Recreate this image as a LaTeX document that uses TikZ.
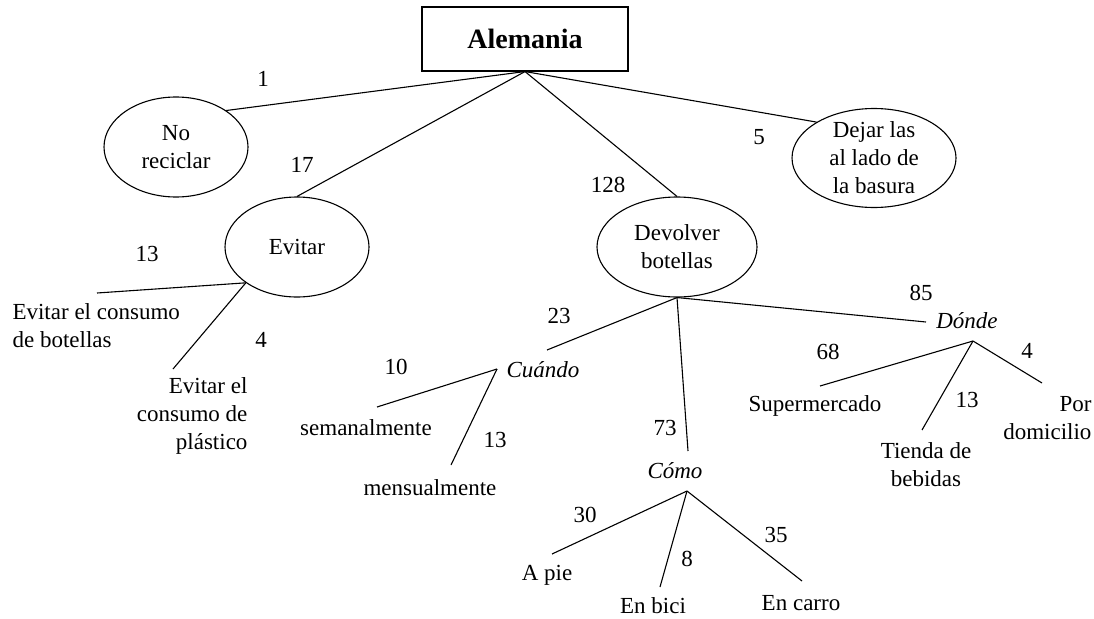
\documentclass[tikz,border=0pt]{standalone}
\usepackage{fontspec}
\setmainfont{Liberation Serif}
\usetikzlibrary{shapes.geometric}
\begin{document}
\begin{tikzpicture}[x=1pt,y=-1pt,line width=1.1pt,
   font=\fontsize{23}{28}\selectfont,
   oval/.style={draw,ellipse,inner sep=0pt,minimum height=100pt},
   txt/.style={inner sep=0pt,align=center},
   num/.style={inner sep=0pt}]
   \useasboundingbox (0,0) rectangle (1094,618);
   \node[draw,minimum width=206pt,minimum height=64pt,
      font=\fontsize{28}{34}\selectfont\bfseries] (alemania) at (525,39) {Alemania};
   \node[oval,minimum width=144pt,label={[txt]center:No\\reciclar}] (noreciclar) at (176,147) {};
   \node[oval,minimum width=144pt,label={[txt]center:Evitar}] (evitar) at (297,247) {};
   \node[oval,minimum width=160pt,label={[txt]center:Devolver\\botellas}] (devolver) at (677,247) {};
   \node[oval,minimum width=164pt,minimum height=99pt,
      label={[txt]center:Dejar las\\al lado de\\la basura}] (dejar) at (874,158) {};
   \draw (alemania.south) -- (noreciclar.36);
   \draw (alemania.south) -- (evitar.north);
   \draw (alemania.south) -- (devolver.north);
   \draw (alemania.south) -- (dejar.148);
   \node[num] (n1) at (263,79) {1};
   \node[num] (n17) at (302,165) {17};
   \node[num] (n128) at (608,185) {128};
   \node[num] (n5) at (759,137) {5};
   % Evitar
   \node[txt,align=left,anchor=west] (botellas) at (12,326) {Evitar el consumo\\de botellas};
   \node[txt,align=right,anchor=east] (plastico) at (248,416) {Evitar el\\consumo de\\plástico};
   \coordinate (botellastop) at (97,293);
   \coordinate (plasticotop) at (173,369);
   \draw (evitar.215) -- (botellastop);
   \draw (evitar.215) -- (plasticotop);
   \node[num] (n13a) at (147,254) {13};
   \node[num] (n4a) at (261,340) {4};
   % Devolver botellas
   \node[txt,font=\fontsize{23}{28}\selectfont\itshape] (cuando) at (543,370) {Cuándo};
   \node[txt,font=\fontsize{23}{28}\selectfont\itshape] (como) at (675,471) {Cómo};
   \node[txt,font=\fontsize{23}{28}\selectfont\itshape] (donde) at (967,321) {Dónde};
   \coordinate (cuandoin) at (547,350);
   \coordinate (comoin) at (688,451);
   \coordinate (dondein) at (926,322);
   \draw (devolver.south) -- (cuandoin);
   \draw (devolver.south) -- (comoin);
   \draw (devolver.south) -- (dondein);
   \node[num] (n23) at (559,316) {23};
   \node[num] (n73) at (665,428) {73};
   \node[num] (n85) at (921,293) {85};
   % Cuando
   \node[txt] (semanal) at (366,428) {semanalmente};
   \node[txt] (mensual) at (430,488) {mensualmente};
   \coordinate (cuandoout) at (497,369);
   \coordinate (semanaltop) at (377,407);
   \coordinate (mensualtop) at (451,465);
   \draw (cuandoout) -- (semanaltop);
   \draw (cuandoout) -- (mensualtop);
   \node[num] (n10) at (396,367) {10};
   \node[num] (n13b) at (495,440) {13};
   % Como
   \node[txt] (apie) at (547,575) {A pie};
   \node[txt] (bici) at (653,606) {En bici};
   \node[txt] (carro) at (801,603) {En carro};
   \coordinate (comoout) at (687,491);
   \coordinate (apietop) at (552,554);
   \coordinate (bicitop) at (660,587);
   \coordinate (carrotop) at (802,581);
   \draw (comoout) -- (apietop);
   \draw (comoout) -- (bicitop);
   \draw (comoout) -- (carrotop);
   \node[num] (n30) at (585,515) {30};
   \node[num] (n8) at (687,559) {8};
   \node[num] (n35) at (776,535) {35};
   % Donde
   \node[txt] (super) at (815,406) {Supermercado};
   \node[txt] (tienda) at (926,465) {Tienda de\\bebidas};
   \node[txt,align=right,anchor=east] (domicilio) at (1092,418) {Por\\domicilio};
   \coordinate (dondeout) at (973,341);
   \coordinate (supertop) at (820,386);
   \coordinate (tiendatop) at (922,430);
   \coordinate (portop) at (1042,383);
   \draw (dondeout) -- (supertop);
   \draw (dondeout) -- (tiendatop);
   \draw (dondeout) -- (portop);
   \node[num] (n68) at (828,352) {68};
   \node[num] (n13c) at (967,400) {13};
   \node[num] (n4b) at (1027,351) {4};
\end{tikzpicture}
\end{document}
